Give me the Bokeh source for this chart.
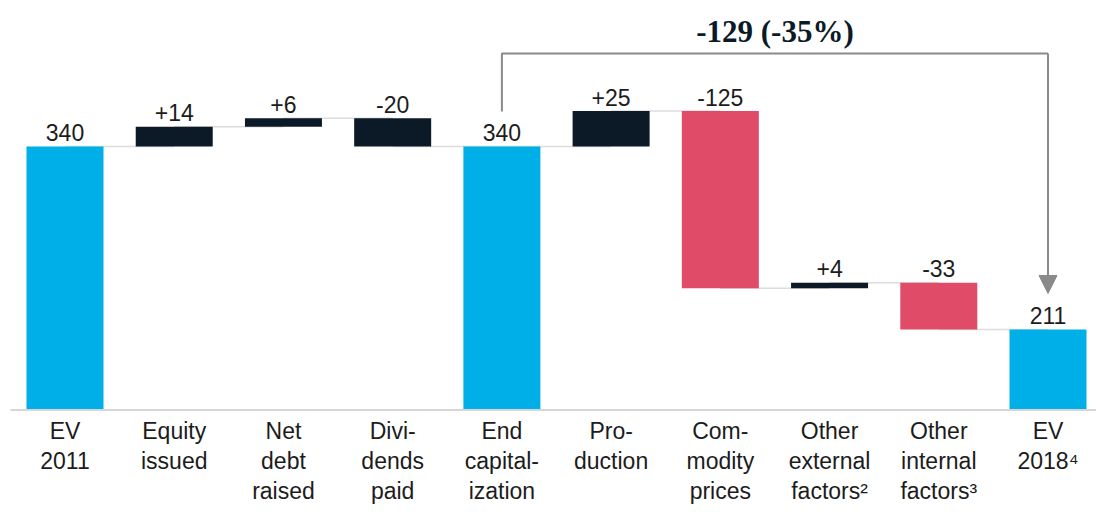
from bokeh.plotting import figure
from bokeh.models import ColumnDataSource, Range1d, Arrow, NormalHead
from bokeh.core.properties import value
from bokeh.embed import file_html
from bokeh.resources import INLINE

# ---------------- data ----------------
categories = ["EV\n2011", "Equity\nissued", "Net\ndebt\nraised", "Divi-\ndends\npaid",
              "End\ncapital-\nization", "Pro-\nduction", "Com-\nmodity\nprices",
              "Other\nexternal\nfactors\u00b2", "Other\ninternal\nfactors\u00b3", "EV\n2018\u2074"]
groups = ["total", "flow", "flow", "flow", "total", "change", "change", "change", "change", "total"]
values = [340, 14, 6, -20, 340, 25, -125, 4, -33, 211]
value_labels = ["340", "+14", "+6", "-20", "340", "+25", "-125", "+4", "-33", "211"]
change_label = "-129 (-35%)"

BLUE = "#00AEE8"
NAVY = "#0C1A27"
RED = "#E04C67"
GRAY_TXT = "#1c1c1c"
FONT = "Liberation Sans"

BASE = 155.0  # value at the chart's baseline (broken axis)

# waterfall geometry from data
bottoms, tops, colors, ends = [], [], [], []
running = 0.0
for g, v in zip(groups, values):
    if g == "total":
        start, end = BASE, v
        running = v
        col = BLUE
    else:
        start, end = running, running + v
        running = end
        col = NAVY if (g == "flow" or v > 0) else RED
    bottoms.append(min(start, end))
    tops.append(max(start, end))
    colors.append(col)
    ends.append(running)

idx = list(range(len(categories)))
src = ColumnDataSource(dict(x=idx, bottom=bottoms, top=tops, color=colors,
                            label=value_labels, cat=categories, base=[BASE] * len(idx)))

X0, X1 = -0.5906, 9.444
p = figure(width=1096, height=523, output_backend="svg", toolbar_location=None,
           x_range=Range1d(X0, X1), y_range=Range1d(74.25, 442.92),
           x_axis_location=None, y_axis_location=None, min_border=0,
           min_border_left=0, min_border_right=0, min_border_top=0, min_border_bottom=0)
p.grid.visible = False
p.outline_line_color = None
p.background_fill_color = "white"

# connectors
p.segment(x0=idx[:-1], x1=[i + 1 for i in idx[:-1]], y0=ends[:-1], y1=ends[:-1],
          line_color="#DCDCDC", line_width=1.5)

# bars
p.vbar(x="x", width=0.705, bottom="bottom", top="top", fill_color="color",
       line_color=None, source=src)

# baseline
p.segment(x0=[-0.5], x1=[X1], y0=[BASE - 0.7], y1=[BASE - 0.7], line_color="#D6D6D6", line_width=2)

# value labels
p.text(x="x", y="top", text="label", source=src, text_align="center",
       text_baseline="alphabetic", y_offset=-14, text_font=value(FONT),
       text_font_size="23px", text_color=GRAY_TXT)

# category labels
p.text(x="x", y="base", text="cat", source=src, text_align="center",
       text_baseline="top", y_offset=9, text_font=value(FONT),
       text_font_size="23px", text_line_height=1.15, text_color=GRAY_TXT)

# bracket showing overall change from End capitalization to EV 2018
i0, i1 = 4, 9
top_y = max(tops) + 40.6
left_bottom = tops[i0] + 24.7
arrow_end = tops[i1] + 25.4
p.line(x=[i0, i0, i1, i1], y=[left_bottom, top_y, top_y, top_y], line_color="#8A8A8A",
       line_width=2)
p.add_layout(Arrow(end=NormalHead(size=18, fill_color="#8A8A8A", line_color="#8A8A8A"),
                   x_start=i1, y_start=top_y, x_end=i1, y_end=arrow_end,
                   line_color="#8A8A8A", line_width=2))
p.text(x=[(i0 + i1) / 2], y=[top_y], text=[change_label], text_align="center",
       text_baseline="alphabetic", y_offset=-22, text_font=value("Liberation Serif"),
       text_font_style="bold", text_font_size="31px", text_color=NAVY)

open("out.html", "w").write(file_html(p, INLINE))
